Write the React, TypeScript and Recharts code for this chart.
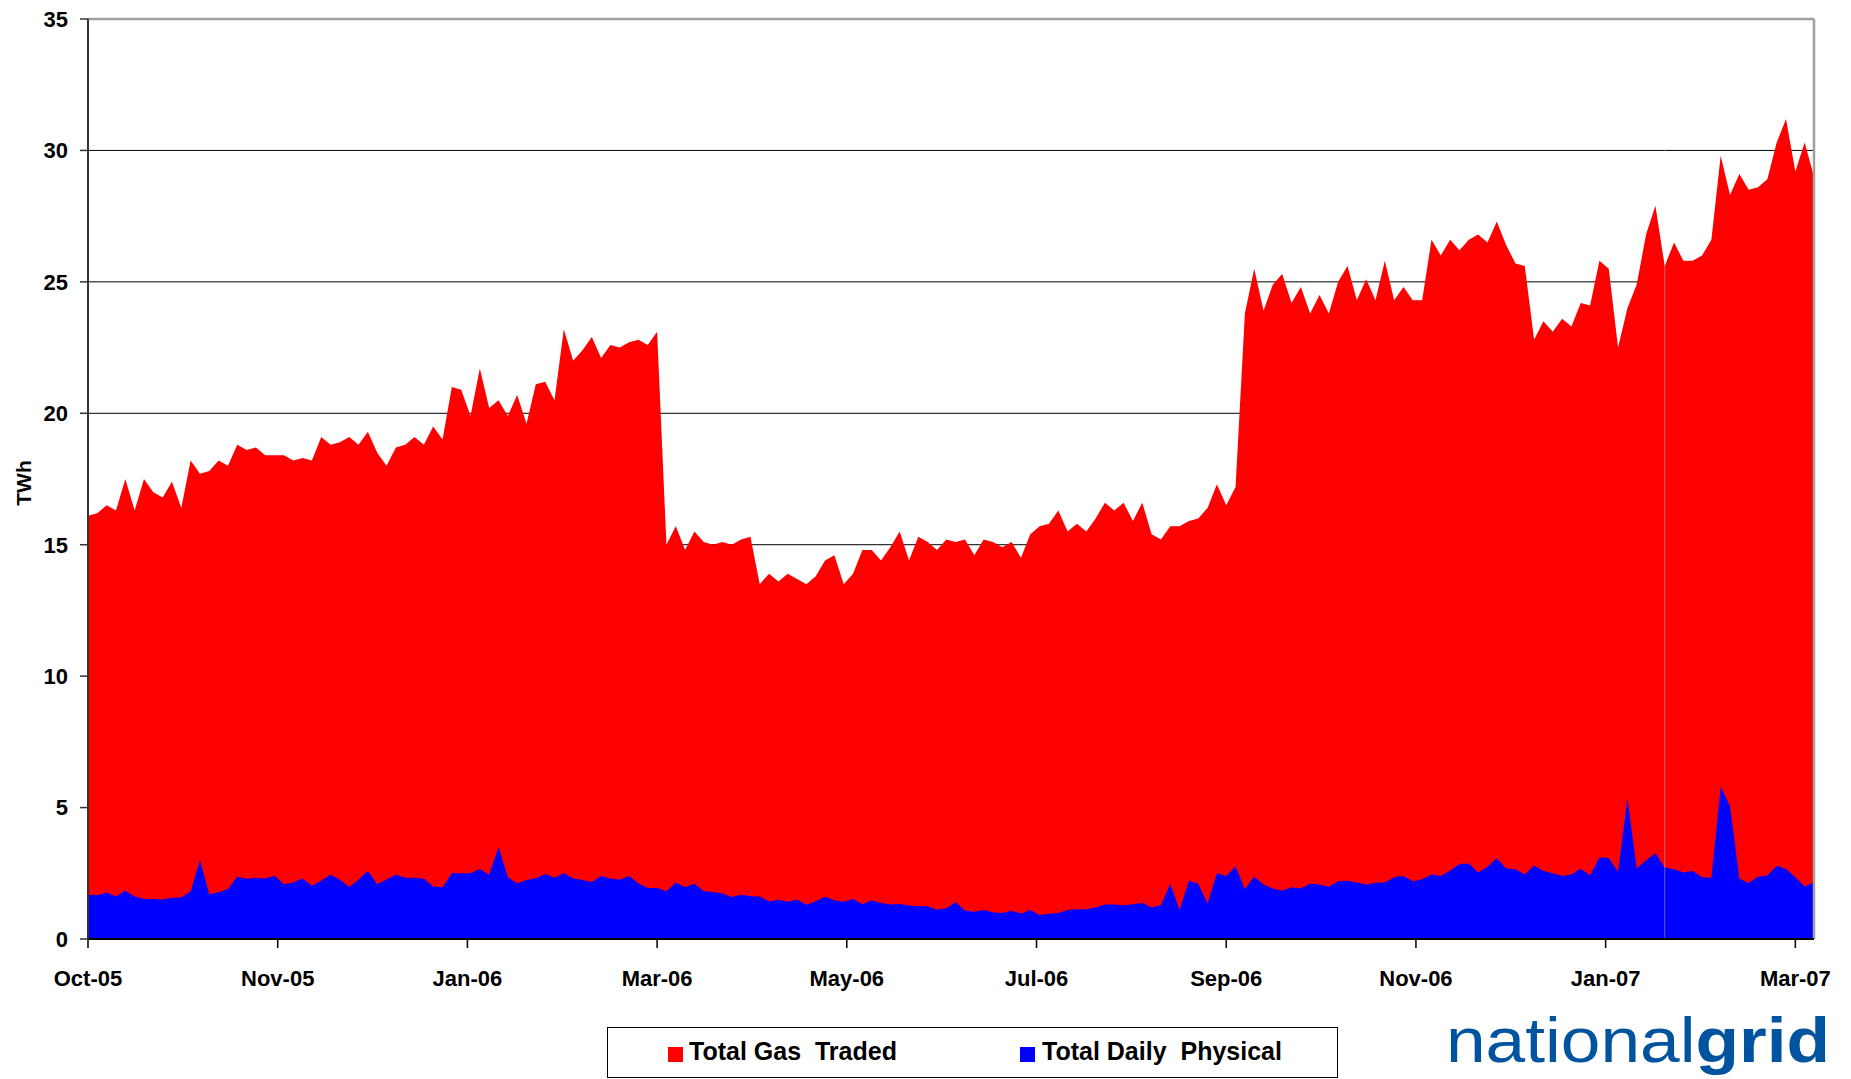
import React from 'react';
import { Area, AreaChart, CartesianGrid, ReferenceLine, XAxis, YAxis } from 'recharts';

// one sample every 3 days, starting Oct-05
const STEP_DAYS = 3;

const tickDays = [0, 61, 122, 183, 244, 305, 366, 427, 488, 549];
const tickLabels = ['Oct-05', 'Nov-05', 'Jan-06', 'Mar-06', 'May-06', 'Jul-06', 'Sep-06', 'Nov-06', 'Jan-07', 'Mar-07'];
const yTicks = [0, 5, 10, 15, 20, 25, 30, 35];

// TWh
const totalGasTraded = [
  16.1, 16.2, 16.5, 16.3, 17.5, 16.3, 17.5, 17.0, 16.8, 17.4,
  16.4, 18.2, 17.7, 17.8, 18.2, 18.0, 18.8, 18.6, 18.7, 18.4,
  18.4, 18.4, 18.2, 18.3, 18.2, 19.1, 18.8, 18.9, 19.1, 18.8,
  19.3, 18.5, 18.0, 18.7, 18.8, 19.1, 18.8, 19.5, 19.0, 21.0,
  20.9, 19.9, 21.7, 20.2, 20.5, 19.9, 20.7, 19.6, 21.1, 21.2,
  20.5, 23.2, 22.0, 22.4, 22.9, 22.1, 22.6, 22.5, 22.7, 22.8,
  22.6, 23.1, 15.0, 15.7, 14.8, 15.5, 15.1, 15.0, 15.1, 15.0,
  15.2, 15.3, 13.5, 13.9, 13.6, 13.9, 13.7, 13.5, 13.8, 14.4,
  14.6, 13.5, 13.9, 14.8, 14.8, 14.4, 14.9, 15.5, 14.4, 15.3,
  15.1, 14.8, 15.2, 15.1, 15.2, 14.6, 15.2, 15.1, 14.9, 15.1,
  14.5, 15.4, 15.7, 15.8, 16.3, 15.5, 15.8, 15.5, 16.0, 16.6,
  16.3, 16.6, 15.9, 16.6, 15.4, 15.2, 15.7, 15.7, 15.9, 16.0,
  16.4, 17.3, 16.5, 17.2, 23.8, 25.5, 23.9, 24.9, 25.3, 24.2,
  24.8, 23.8, 24.5, 23.8, 25.0, 25.6, 24.3, 25.1, 24.3, 25.8,
  24.3, 24.8, 24.3, 24.3, 26.6, 26.0, 26.6, 26.2, 26.6, 26.8,
  26.5, 27.3, 26.4, 25.7, 25.6, 22.8, 23.5, 23.1, 23.6, 23.3,
  24.2, 24.1, 25.8, 25.5, 22.5, 24.0, 24.9, 26.8, 27.9, 25.6,
  26.5, 25.8, 25.8, 26.0, 26.6, 29.8, 28.3, 29.1, 28.5, 28.6,
  28.9, 30.3, 31.2, 29.2, 30.3, 29.0,
];

const totalDailyPhysical = [
  1.68, 1.66, 1.77, 1.62, 1.84, 1.62, 1.52, 1.52, 1.50, 1.57,
  1.58, 1.81, 3.00, 1.70, 1.78, 1.90, 2.37, 2.29, 2.32, 2.30,
  2.41, 2.08, 2.15, 2.30, 2.03, 2.22, 2.44, 2.25, 1.98, 2.25,
  2.59, 2.08, 2.26, 2.44, 2.33, 2.33, 2.29, 2.00, 1.97, 2.50,
  2.50, 2.50, 2.66, 2.44, 3.50, 2.35, 2.11, 2.24, 2.31, 2.47,
  2.33, 2.50, 2.30, 2.24, 2.17, 2.40, 2.30, 2.25, 2.40, 2.11,
  1.94, 1.94, 1.82, 2.15, 1.97, 2.10, 1.82, 1.79, 1.73, 1.60,
  1.68, 1.63, 1.62, 1.43, 1.49, 1.42, 1.50, 1.30, 1.44, 1.61,
  1.47, 1.42, 1.52, 1.32, 1.47, 1.37, 1.31, 1.33, 1.27, 1.25,
  1.25, 1.11, 1.17, 1.40, 1.08, 1.04, 1.10, 1.02, 0.99, 1.07,
  0.97, 1.10, 0.91, 0.96, 0.99, 1.10, 1.13, 1.13, 1.20, 1.31,
  1.31, 1.28, 1.32, 1.37, 1.20, 1.28, 2.10, 1.10, 2.22, 2.10,
  1.35, 2.50, 2.40, 2.76, 1.89, 2.37, 2.07, 1.92, 1.84, 1.97,
  1.92, 2.10, 2.07, 1.99, 2.20, 2.22, 2.15, 2.07, 2.14, 2.15,
  2.35, 2.40, 2.20, 2.27, 2.45, 2.40, 2.60, 2.85, 2.87, 2.53,
  2.75, 3.07, 2.68, 2.65, 2.45, 2.80, 2.59, 2.50, 2.40, 2.45,
  2.67, 2.42, 3.10, 3.08, 2.55, 5.35, 2.68, 3.00, 3.26, 2.72,
  2.65, 2.53, 2.59, 2.35, 2.33, 5.79, 5.05, 2.29, 2.13, 2.37,
  2.42, 2.78, 2.66, 2.35, 2.00, 2.16,
];

const data = totalGasTraded.map((v, i) => ({
  day: i * STEP_DAYS,
  traded: v,
  physical: totalDailyPhysical[i],
}));

const lastDay = (totalGasTraded.length - 1) * STEP_DAYS;

const FONT = '"Liberation Sans", Arial, Helvetica, sans-serif';
const tickStyle = { fill: '#000', fontSize: 22, fontWeight: 'bold', fontFamily: FONT };

export default function App() {
  return (
    <div style={{ position: 'absolute', left: 0, top: 0, width: 1851, height: 1079, overflow: 'hidden', background: '#fff' }}>
      <AreaChart width={1851} height={1079} data={data} margin={{ top: 19, right: 37, bottom: 80, left: 8 }}>
        <CartesianGrid vertical={false} stroke="#000" strokeWidth={1} />
        <XAxis
          dataKey="day"
          type="number"
          domain={[0, lastDay]}
          ticks={tickDays}
          tickFormatter={(d) => tickLabels[tickDays.indexOf(d)]}
          height={60}
          tick={tickStyle}
          tickSize={9}
          tickMargin={22}
          axisLine={{ stroke: '#000', strokeWidth: 2 }}
          tickLine={{ stroke: '#000', strokeWidth: 1.5 }}
        />
        <YAxis
          domain={[0, 35]}
          ticks={yTicks}
          width={80}
          tick={tickStyle}
          tickSize={8}
          tickMargin={12}
          axisLine={{ stroke: '#333', strokeWidth: 2 }}
          tickLine={{ stroke: '#333', strokeWidth: 1.5 }}
        />
        <Area
          type="linear"
          dataKey="traded"
          name="Total Gas Traded"
          fill="#ff0000"
          fillOpacity={1}
          stroke="none"
          isAnimationActive={false}
          dot={false}
          activeDot={false}
        />
        <Area
          type="linear"
          dataKey="physical"
          name="Total Daily Physical"
          fill="#0000ff"
          fillOpacity={1}
          stroke="none"
          isAnimationActive={false}
          dot={false}
          activeDot={false}
        />
        <ReferenceLine x={507} stroke="#ffffff" strokeOpacity={0.35} strokeWidth={1} />
        <ReferenceLine y={35} stroke="#a0a0a0" strokeWidth={2.5} />
        <ReferenceLine x={lastDay} stroke="#a0a0a0" strokeWidth={2.5} />
      </AreaChart>

      <svg width={1851} height={1079} style={{ position: 'absolute', left: 0, top: 0, pointerEvents: 'none' }}>
        <text
          x={0}
          y={0}
          transform="translate(31,483) rotate(-90)"
          textAnchor="middle"
          fontFamily={FONT}
          fontWeight="bold"
          fontSize={21}
          fill="#000"
        >
          TWh
        </text>
        <text x={1446} y={1062} fontFamily={FONT} fontSize={63} fill="#00539f" textLength={384} lengthAdjust="spacingAndGlyphs">
          <tspan fontWeight="normal">national</tspan>
          <tspan fontWeight="bold">grid</tspan>
        </text>
      </svg>

      <div
        style={{
          position: 'absolute',
          left: 607,
          top: 1027,
          width: 729,
          height: 49,
          border: '1.5px solid #000',
          fontFamily: FONT,
          fontWeight: 'bold',
          fontSize: 25,
          color: '#000',
        }}
      >
        <span style={{ position: 'absolute', left: 60, top: 19, width: 15, height: 15, background: '#ff0000' }} />
        <span style={{ position: 'absolute', left: 81, top: 9, whiteSpace: 'pre', lineHeight: '29px' }}>Total Gas  Traded</span>
        <span style={{ position: 'absolute', left: 412, top: 19, width: 15, height: 15, background: '#0000ff' }} />
        <span style={{ position: 'absolute', left: 434, top: 9, whiteSpace: 'pre', lineHeight: '29px' }}>Total Daily  Physical</span>
      </div>
    </div>
  );
}
